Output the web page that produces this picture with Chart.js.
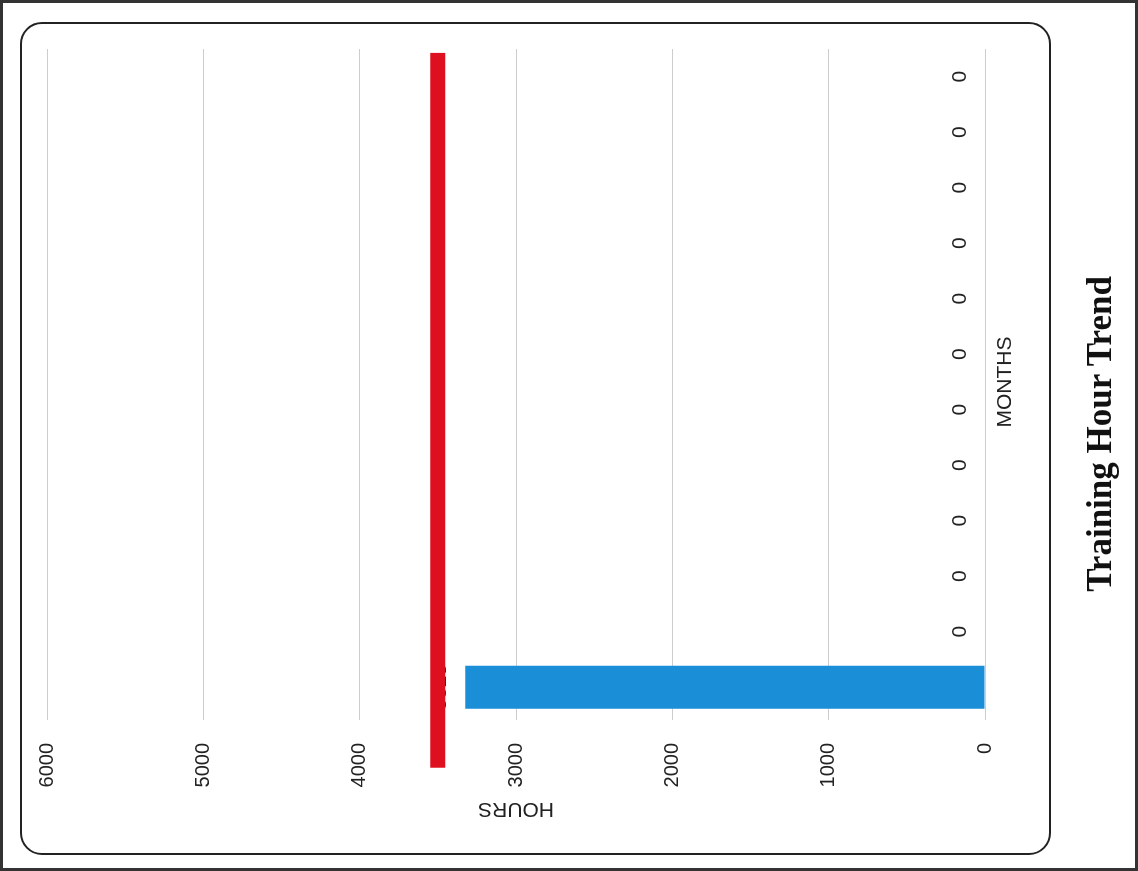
<!DOCTYPE html>
<html>
<head>
<meta charset="utf-8">
<script src="https://cdn.jsdelivr.net/npm/chart.js@4.4.1/dist/chart.umd.min.js"></script>
<style>
  html, body { margin: 0; padding: 0; background: #fff; }
  #page {
    position: relative; width: 1138px; height: 871px; overflow: hidden;
    box-sizing: border-box; border: 3px solid #333;
  }
  #box {
    position: absolute; left: 17px; top: 19px; width: 1031px; height: 833px;
    box-sizing: border-box; border: 2px solid #222; border-radius: 22px;
  }
  /* chart is laid out upright, then the whole sheet is turned a quarter left */
  #sheet {
    position: absolute; left: 0; top: 0; width: 871px; height: 1138px;
    transform-origin: 0 0; transform: translate(-3px, 868px) rotate(-90deg);
  }
  #chart { position: absolute; left: 0; top: 0; }
  #title {
    position: absolute; left: 0; width: 874px; top: 1080px; text-align: center;
    font-family: 'Liberation Serif', serif; font-weight: bold; font-size: 35px; color: #111;
  }
</style>
</head>
<body>
<div id="page">
  <div id="box"></div>
  <div id="sheet">
    <canvas id="chart" width="871" height="1138"></canvas>
    <div id="title">Training Hour Trend</div>
  </div>
</div>
<script>
const BLUE = '#1a8fd8'
const RED = '#de0f1e'
const GRID = '#cdcdcd'
const TEXT = '#222'
const FONT = "'Liberation Sans', Arial, sans-serif"

// months have no printed names on the chart
const months = ['', '', '', '', '', '', '', '', '', '', '', '']
const hours = [3325, 0, 0, 0, 0, 0, 0, 0, 0, 0, 0, 0]
const target = 3500
// target line reaches from before the first month to past the last one
// (in month-index units on the category axis)
const targetSpan = [-1.45, 11.43]
const yTicks = [0, 1000, 2000, 3000, 4000, 5000, 6000]

const barLabels = {
  id: 'barLabels',
  afterDatasetDraw(chart, args) {
    if (args.index !== 0) return
    const ctx = chart.ctx
    ctx.save()
    ctx.font = '21px ' + FONT
    ctx.fillStyle = TEXT
    ctx.textAlign = 'center'
    ctx.textBaseline = 'middle'
    args.meta.data.forEach((bar, i) => {
      ctx.fillText(String(hours[i]), bar.x, bar.y - 25)
    })
    ctx.restore()
  }
}

new Chart(document.getElementById('chart'), {
  type: 'bar',
  data: {
    labels: months,
    datasets: [
      {
        type: 'bar',
        label: 'Hours',
        data: hours,
        backgroundColor: BLUE,
        grouped: false,
        barPercentage: 0.775,
        categoryPercentage: 1,
        order: 1,
      },
      {
        type: 'line',
        label: 'Target',
        parsing: false,
        data: targetSpan.map(x => ({ x, y: target })),
        borderColor: RED,
        borderWidth: 15,
        borderCapStyle: 'butt',
        pointRadius: 0,
        clip: false,
        order: 0,
      },
    ],
  },
  plugins: [barLabels],
  options: {
    responsive: false,
    animation: false,
    layout: { padding: { top: 47, right: 49, left: 0, bottom: 89 } },
    scales: {
      x: {
        min: 0,
        max: months.length - 1,
        grid: { display: false },
        border: { display: false },
        ticks: { display: false },
        title: {
          display: true, text: 'MONTHS', color: TEXT,
          font: { family: FONT, size: 21 }, padding: { top: 0, bottom: 31 },
        },
        afterFit(scale) { scale.height = 64 },
      },
      y: {
        min: 0,
        max: 6000,
        afterBuildTicks(scale) { scale.ticks = yTicks.map(value => ({ value })) },
        grid: { color: GRID, lineWidth: 1, drawTicks: true, tickLength: 5 },
        border: { display: false },
        ticks: {
          color: TEXT, padding: 23, font: { family: FONT, size: 20 },
          callback: value => String(value),
        },
        title: {
          display: true, text: 'HOURS', color: TEXT,
          font: { family: FONT, size: 21 }, padding: { top: 50, bottom: 0 },
        },
        afterFit(scale) { scale.width = 156 },
      },
    },
    plugins: {
      legend: { display: false },
      tooltip: { enabled: false },
    },
  },
})
</script>
</body>
</html>
